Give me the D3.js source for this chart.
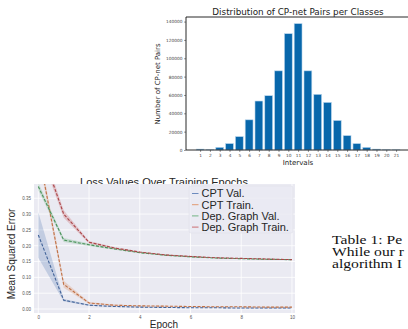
<!DOCTYPE html>
<html>
<head>
<meta charset="utf-8">
<script src="https://cdn.jsdelivr.net/npm/d3@7"></script>
<style>
  body { margin: 0; background: #fff; }
  svg { display: block; }
</style>
</head>
<body>
<svg id="fig" width="408" height="329"></svg>
<script>
// ---- bar chart data (distribution of CP-net pairs) ----
const intervalLabels = ['1','2','3','4','5','6','7','8','9','10','11','12','13','14','15','16','17','18','19','20','21'];
const pairCounts = [1000, 500, 2900, 7000, 14600, 32900, 53400, 59200, 86300, 126800, 137800, 86300, 60700, 51900, 32200, 15700, 7000, 2900, 1000, 300, 200];
const countTicks = [0, 20000, 40000, 60000, 80000, 100000, 120000, 140000];

// ---- loss chart data ----
const epochs = [0, 1, 2, 3, 4, 5, 6, 7, 8, 9, 10];
const epochTicks = [0, 2, 4, 6, 8, 10];
const lossTicks = [0.00, 0.05, 0.10, 0.15, 0.20, 0.25, 0.30, 0.35];
const seriesNames = ['CPT Val.', 'CPT Train.', 'Dep. Graph Val.', 'Dep. Graph Train.'];
const seriesColors = ['#4C72B0', '#DD8452', '#55A868', '#C44E52'];
const cptVal = [0.234, 0.028, 0.012, 0.008, 0.006, 0.005, 0.004, 0.004, 0.003, 0.003, 0.003];
const cptValSpread = [0.072, 0.004, 0.002, 0.001, 0.001, 0.001, 0.001, 0.001, 0.001, 0.001, 0.001];
const cptTrain = [0.50, 0.078, 0.019, 0.012, 0.010, 0.009, 0.008, 0.007, 0.007, 0.006, 0.006];
const cptTrainSpread = [0.02, 0.011, 0.003, 0.002, 0.001, 0.001, 0.001, 0.001, 0.001, 0.001, 0.001];
const depVal = [0.387, 0.218, 0.203, 0.190, 0.178, 0.170, 0.165, 0.161, 0.159, 0.157, 0.156];
const depValSpread = [0.012, 0.006, 0.004, 0.003, 0.002, 0.002, 0.002, 0.001, 0.001, 0.001, 0.001];
const depTrain = [0.53, 0.300, 0.211, 0.193, 0.180, 0.171, 0.166, 0.162, 0.160, 0.158, 0.156];
const depTrainSpread = [0.02, 0.012, 0.004, 0.003, 0.002, 0.002, 0.002, 0.001, 0.001, 0.001, 0.001];
const seriesMeans = [cptVal, cptTrain, depVal, depTrain];
const seriesSpreads = [cptValSpread, cptTrainSpread, depValSpread, depTrainSpread];

const svg = d3.select('#fig');
const mpl = 'DejaVu Sans';
const sns = 'Liberation Sans, Arial, sans-serif';

// ================= bar chart =================
let bx = d3.scaleLinear().domain([-1.44, 21.44]).range([186, 410.2]);
let by = d3.scaleLinear().domain([0, 145000]).range([150, 17]);

let barG = svg.append('g');
barG.selectAll('rect')
  .data(pairCounts)
  .enter().append('rect')
  .attr('x', (d, i) => bx(i - 0.4))
  .attr('width', bx(0.8) - bx(0))
  .attr('y', d => by(d))
  .attr('height', d => by(0) - by(d))
  .attr('fill', '#0867ab')
  .attr('stroke', '#bcd8ee')
  .attr('stroke-width', 0.6);

// axes
let yAxB = svg.append('g')
  .attr('transform', 'translate(186,0)')
  .call(d3.axisLeft(by).tickValues(countTicks).tickSize(2).tickPadding(1.5).tickFormat(d3.format('d')));
let xAxB = svg.append('g')
  .attr('transform', 'translate(0,150)')
  .call(d3.axisBottom(bx).tickValues(d3.range(intervalLabels.length)).tickSize(2).tickPadding(1.5)
    .tickFormat(i => intervalLabels[i]));
[yAxB, xAxB].forEach(a => {
  a.select('.domain').remove();
  a.selectAll('text').attr('font-family', mpl).attr('font-size', 4.3).attr('fill', '#444');
  a.selectAll('line').attr('stroke', '#333').attr('stroke-width', 0.5);
});

// spines (right one falls off the page)
svg.append('path')
  .attr('d', `M${bx.range()[1]},${by(0)}H186V17H${bx.range()[1]}`)
  .attr('fill', 'none').attr('stroke', '#111').attr('stroke-width', 0.9);

svg.append('text').attr('x', 298).attr('y', 15)
  .attr('text-anchor', 'middle').attr('font-family', mpl).attr('font-size', 8.8).attr('fill', '#222')
  .text('Distribution of CP-net Pairs per Classes');
svg.append('text').attr('x', 298).attr('y', 164.5)
  .attr('text-anchor', 'middle').attr('font-family', mpl).attr('font-size', 7).attr('fill', '#222')
  .text('Intervals');
svg.append('text').attr('transform', 'translate(159.5,84) rotate(-90)')
  .attr('text-anchor', 'middle').attr('font-family', mpl).attr('font-size', 7).attr('fill', '#222')
  .text('Number of CP-net Pairs');

// ================= loss chart =================
let lx = d3.scaleLinear().domain([-0.17, 10.12]).range([34, 295]);
let ly = d3.scaleLinear().domain([-0.0126, 0.395]).range([313, 184]);

// title is drawn first: the axes patch covers its lower part
svg.append('text').attr('x', 164).attr('y', 185.5)
  .attr('text-anchor', 'middle').attr('font-family', sns).attr('font-size', 11).attr('fill', '#262626')
  .text('Loss Values Over Training Epochs');

svg.append('rect')
  .attr('x', lx.range()[0]).attr('y', ly.range()[1])
  .attr('width', lx.range()[1] - lx.range()[0]).attr('height', ly.range()[0] - ly.range()[1])
  .attr('fill', '#EAEAF2');

svg.append('defs').append('clipPath').attr('id', 'plotclip')
  .append('rect')
  .attr('x', lx.range()[0]).attr('y', ly.range()[1])
  .attr('width', lx.range()[1] - lx.range()[0]).attr('height', ly.range()[0] - ly.range()[1]);

// white grid
let grid = svg.append('g').attr('stroke', '#fff').attr('stroke-width', 0.8);
grid.selectAll('.gy').data(lossTicks).enter().append('line')
  .attr('x1', lx.range()[0]).attr('x2', lx.range()[1])
  .attr('y1', d => ly(d)).attr('y2', d => ly(d));
grid.selectAll('.gx').data(epochTicks).enter().append('line')
  .attr('y1', ly.range()[0]).attr('y2', ly.range()[1])
  .attr('x1', d => lx(d)).attr('x2', d => lx(d));

let plot = svg.append('g').attr('clip-path', 'url(#plotclip)');

let area = d3.area()
  .x(d => lx(d.x))
  .y0(d => ly(d.m - d.s))
  .y1(d => ly(d.m + d.s));
let line = d3.line()
  .x(d => lx(d.x))
  .y(d => ly(d.m));

seriesMeans.forEach((means, k) => {
  let pts = epochs.map((e, i) => ({x: e, m: means[i], s: seriesSpreads[k][i]}));
  plot.append('path').attr('d', area(pts))
    .attr('fill', seriesColors[k]).attr('fill-opacity', 0.25);
  plot.append('path').attr('d', line(pts))
    .attr('fill', 'none')
    .attr('stroke', d3.color(seriesColors[k]).darker(0.4))
    .attr('stroke-width', 1.1)
    .attr('stroke-dasharray', '3,1.6');
});

// tick labels, no tick marks (darkgrid)
let yAxL = svg.append('g').attr('transform', `translate(${lx.range()[0]},0)`)
  .call(d3.axisLeft(ly).tickValues(lossTicks).tickSize(0).tickPadding(3).tickFormat(d3.format('.2f')));
let xAxL = svg.append('g').attr('transform', `translate(0,${ly.range()[0]})`)
  .call(d3.axisBottom(lx).tickValues(epochTicks).tickSize(0).tickPadding(3));
[yAxL, xAxL].forEach(a => {
  a.select('.domain').remove();
  a.selectAll('text').attr('font-family', sns).attr('font-size', 4.5).attr('fill', '#555');
});

svg.append('text').attr('x', 164).attr('y', 328)
  .attr('text-anchor', 'middle').attr('font-family', sns).attr('font-size', 10).attr('fill', '#262626')
  .text('Epoch');
svg.append('text').attr('transform', 'translate(15,254) rotate(-90)')
  .attr('text-anchor', 'middle').attr('font-family', sns).attr('font-size', 10).attr('fill', '#262626')
  .text('Mean Squared Error');

// legend
let leg = svg.append('g').attr('transform', 'translate(189,186)');
leg.append('rect').attr('x', 0).attr('y', 0).attr('width', 104).attr('height', 47)
  .attr('rx', 2).attr('fill', '#EAEAF2').attr('fill-opacity', 0.8).attr('stroke', '#dcdce6').attr('stroke-width', 0.5);
seriesNames.forEach((name, k) => {
  let row = leg.append('g').attr('transform', `translate(0,${7.5 + k * 11.2})`);
  row.append('line').attr('x1', 3).attr('x2', 9.5).attr('y1', 0).attr('y2', 0)
    .attr('stroke', seriesColors[k]).attr('stroke-width', 0.8);
  row.append('text').attr('x', 12.5).attr('y', 3.9)
    .attr('font-family', sns).attr('font-size', 11).attr('fill', '#262626')
    .text(name);
});

// neighbouring page text, cut by the right edge like the reference
const captionLines = ['Table 1: Pe', 'While our r', 'algorithm I'];
let cap = svg.append('g').attr('transform', 'translate(332,0) scale(1.36,1)');
cap.selectAll('text').data(captionLines).enter().append('text')
  .attr('x', 0).attr('y', (d, i) => 244 + i * 12)
  .attr('font-family', 'Liberation Serif, Times New Roman, serif').attr('font-size', 11.5).attr('fill', '#111')
  .text(d => d);
</script>
</body>
</html>
